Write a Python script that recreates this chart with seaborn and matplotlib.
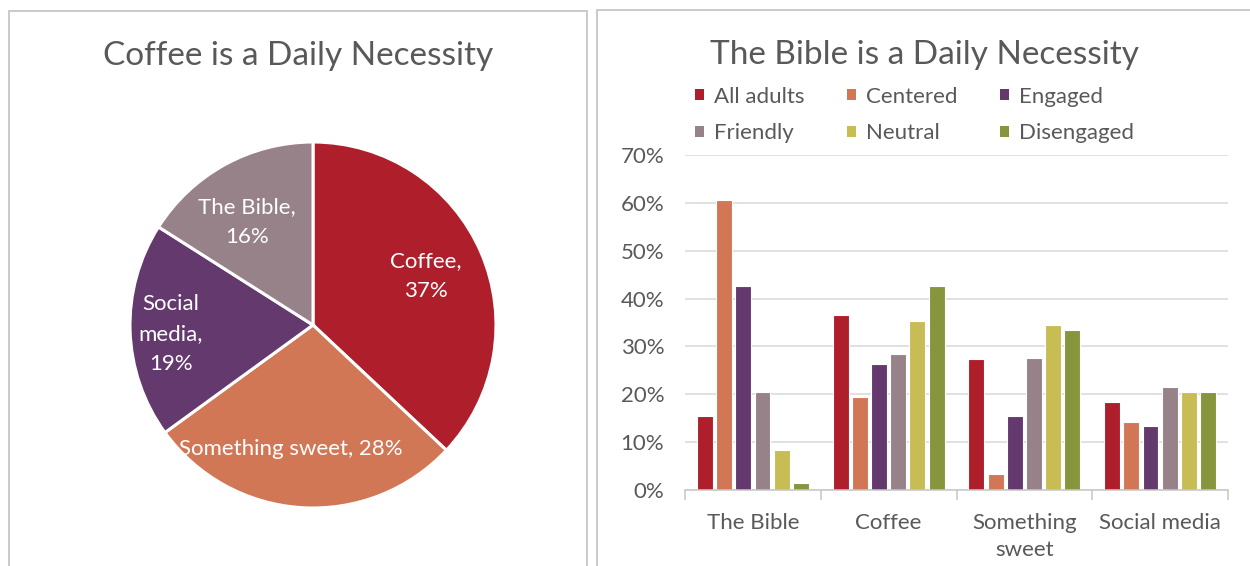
import numpy as np
import pandas as pd
import seaborn as sns
import matplotlib.pyplot as plt
from matplotlib.patches import Rectangle, Patch
from matplotlib.ticker import FuncFormatter, FixedLocator

# --- data -------------------------------------------------------------
pie_labels = ["Coffee", "Something sweet", "Social media", "The Bible"]
pie_values = [37, 28, 19, 16]

categories = ["The Bible", "Coffee", "Something\nsweet", "Social media"]
groups = ["All adults", "Centered", "Engaged", "Friendly", "Neutral", "Disengaged"]
all_adults = [15.4, 36.5, 27.4, 18.4]
centered = [60.5, 19.5, 3.4, 14.3]
engaged = [42.6, 26.4, 15.5, 13.4]
friendly = [20.4, 28.5, 27.5, 21.5]
neutral = [8.4, 35.4, 34.5, 20.4]
disengaged = [1.5, 42.6, 33.4, 20.4]
y_ticks = [0, 10, 20, 30, 40, 50, 60, 70]

# --- styling ----------------------------------------------------------
group_colors = ["#AE1F2B", "#D27756", "#643A6E", "#968288", "#C8BC55", "#87953D"]
pie_colors = ["#AE1F2B", "#D27756", "#643A6E", "#968288"]
TEXT = "#595959"
GRID = "#D9D9D9"
BORDER = "#C6C6C6"

sns.set_theme(style="white")
plt.rcParams["font.family"] = ["Lato", "DejaVu Sans"]

W, H = 1250, 566
fig = plt.figure(figsize=(W / 100, H / 100), dpi=100)


def fx(px):
    return px / W


def fy(py):
    return 1 - py / H


# chart frames
fig.patches.append(Rectangle((fx(9), fy(600)), fx(587 - 9), fy(11) - fy(600),
                             transform=fig.transFigure, fill=False,
                             edgecolor=BORDER, lw=1.3))
fig.patches.append(Rectangle((fx(597), fy(600)), fx(700), fy(10) - fy(600),
                             transform=fig.transFigure, fill=False,
                             edgecolor=BORDER, lw=1.3))

# --- pie --------------------------------------------------------------
cx, cy, R = 313, 325, 183
ax_pie = fig.add_axes([fx(cx - R), fy(cy + R), fx(2 * R), fy(cy - R) - fy(cy + R)])
wedges, _ = ax_pie.pie(pie_values, colors=pie_colors, startangle=90,
                       counterclock=False,
                       wedgeprops=dict(edgecolor="white", linewidth=2.2))
ax_pie.set_xlim(-1, 1)
ax_pie.set_ylim(-1, 1)
ax_pie.set_aspect("equal")

label_text = {
    "Coffee": "Coffee,\n{}%",
    "Something sweet": "Something sweet, {}%",
    "Social media": "Social\nmedia,\n{}%",
    "The Bible": "The Bible,\n{}%",
}
# (radial distance, angular nudge in degrees) for each data label
label_place = {"Coffee": (0.67, 0.0), "Something sweet": (0.69, -6.5),
               "Social media": (0.78, 1.8), "The Bible": (0.67, 4.0)}
for w, name, val in zip(wedges, pie_labels, pie_values):
    d, nudge = label_place[name]
    mid = np.deg2rad((w.theta1 + w.theta2) / 2 + nudge)
    ax_pie.text(d * np.cos(mid), d * np.sin(mid), label_text[name].format(val),
                ha="center", va="center", color="white", fontsize=16,
                linespacing=1.6)

fig.text(fx(298), fy(56), "Coffee is a Daily Necessity", ha="center", va="center",
         fontsize=24, color=TEXT)

# --- grouped bars -----------------------------------------------------
series = [all_adults, centered, engaged, friendly, neutral, disengaged]
df = pd.DataFrame({
    "category": np.tile(categories, len(groups)),
    "group": np.repeat(groups, len(categories)),
    "value": np.concatenate(series),
})

ax = fig.add_axes([fx(685), fy(490), fx(1228 - 685), fy(155) - fy(490)])
sns.barplot(data=df, x="category", y="value", hue="group", order=categories,
            hue_order=groups, palette=group_colors, width=0.85, gap=0.17,
            linewidth=0.8, edgecolor="white", saturation=1, legend=False, ax=ax)

ax.set_ylim(0, 70)
ax.set_xlim(-0.5, len(categories) - 0.5)
ax.yaxis.set_major_locator(FixedLocator(y_ticks))
ax.yaxis.set_major_formatter(FuncFormatter(lambda v, _: f"{v:.0f}%"))
ax.grid(axis="y", color=GRID, lw=1.1)
ax.set_axisbelow(True)
for s in ["top", "right", "left"]:
    ax.spines[s].set_visible(False)
ax.spines["bottom"].set_color(BORDER)
ax.spines["bottom"].set_linewidth(1.1)
ax.set_xlabel("")
ax.set_ylabel("")
ax.tick_params(axis="y", length=0, pad=15, labelsize=16, labelcolor=TEXT)
ax.tick_params(axis="x", which="major", length=0, pad=16.5, labelsize=16,
               labelcolor=TEXT)
ax.xaxis.set_minor_locator(FixedLocator(np.arange(-0.5, len(categories), 1.0)))
ax.tick_params(axis="x", which="minor", length=7, width=1.1, color=BORDER,
               direction="out", bottom=True)
for lbl in ax.get_xticklabels():
    lbl.set_va("top")
    lbl.set_linespacing(1.45)

# legend laid out row by row (matplotlib fills columns first)
order = [0, 3, 1, 4, 2, 5]
handles = [Patch(facecolor=group_colors[i], edgecolor="none") for i in order]
labels = [groups[i] for i in order]
fig.legend(handles, labels, ncol=3, loc="center left",
           bbox_to_anchor=(fx(695), fy(115)), frameon=False, fontsize=16,
           labelcolor=TEXT, handlelength=0.42, handleheight=0.42,
           handletextpad=0.45, columnspacing=1.9, labelspacing=0.75,
           borderpad=0, borderaxespad=0)

fig.text(fx(925), fy(55), "The Bible is a Daily Necessity", ha="center",
         va="center", fontsize=24, color=TEXT)

fig.savefig("out.png", dpi=100)
